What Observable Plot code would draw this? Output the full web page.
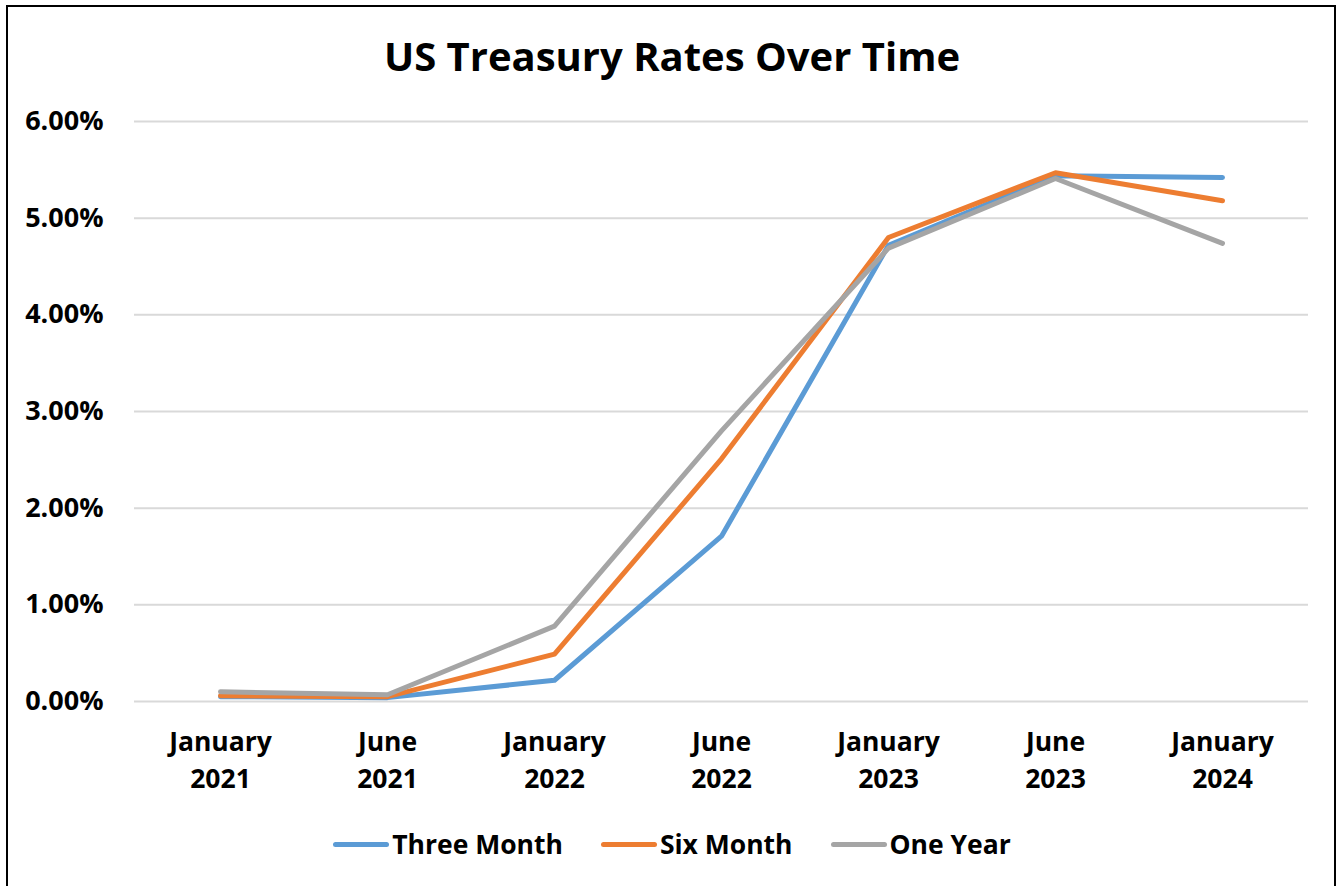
<!DOCTYPE html>
<html>
<head>
<meta charset="utf-8">
<script src="https://cdn.jsdelivr.net/npm/d3@7"></script>
<script src="https://cdn.jsdelivr.net/npm/@observablehq/plot@0.6"></script>
<style>
  html, body { margin: 0; padding: 0; background: #fff; overflow: hidden; }
  body { width: 1344px; height: 886px; position: relative; font-family: "Open Sans", Lato, sans-serif; }
  #frame { position: absolute; left: 6px; top: 5px; width: 1330px; height: 900px; border: 2px solid #000; box-sizing: border-box; }
  #title { position: absolute; left: 0; width: 1344px; top: 31px; text-align: center; font-size: 40px; font-weight: 700; color: #000; line-height: 50px; }
  #chart { position: absolute; left: 0; top: 0; }
  #legend { position: absolute; left: 0; width: 1344px; top: 825px; display: flex; justify-content: center; gap: 38px; font-size: 26.5px; font-weight: 700; line-height: 38px; }
  .item { display: flex; align-items: center; }
  .sw { width: 56px; height: 5px; border-radius: 3px; margin-right: 3px; }
</style>
</head>
<body>
<div id="frame"></div>
<div id="chart"></div>
<div id="title">US Treasury Rates Over Time</div>
<div id="legend"></div>
<script>
const dates = ["January 2021", "June 2021", "January 2022", "June 2022", "January 2023", "June 2023", "January 2024"];
const seriesNames = ["Three Month", "Six Month", "One Year"];
const seriesColors = ["#5B9BD5", "#ED7D31", "#A5A5A5"];
const threeMonth = [0.05, 0.04, 0.22, 1.71, 4.72, 5.44, 5.42];
const sixMonth = [0.06, 0.05, 0.49, 2.51, 4.80, 5.47, 5.18];
const oneYear = [0.10, 0.07, 0.78, 2.80, 4.69, 5.41, 4.74];
const yTicks = [0, 1, 2, 3, 4, 5, 6];

const values = [threeMonth, sixMonth, oneYear];
const data = [];
seriesNames.forEach((s, i) => dates.forEach((d, j) => data.push({series: s, date: d, value: values[i][j]})));

const fontFamily = "'Open Sans', Lato, sans-serif";
const plot = Plot.plot({
  width: 1344,
  height: 800,
  marginLeft: 134,
  marginRight: 36,
  marginTop: 121,
  marginBottom: 99,
  style: {fontFamily, background: "transparent"},
  x: {type: "point", domain: dates, padding: 0.5, label: null, axis: null},
  y: {domain: [0, 6], label: null},
  color: {domain: seriesNames, range: seriesColors},
  marks: [
    Plot.ruleY(yTicks, {stroke: "#d9d9d9", strokeWidth: 2}),
    Plot.axisY(yTicks, {tickSize: 0, tickPadding: 31, tickFormat: d => d.toFixed(2) + "%", fontSize: 27, fontWeight: 700, fill: "#000", label: null}),
    Plot.text(dates, {x: d => d, text: d => d.replace(" ", "\n"), frameAnchor: "bottom", lineAnchor: "top", dy: 24, lineHeight: 1.38, fontSize: 26.5, fontWeight: 700, fill: "#000"}),
    Plot.line(data, {x: "date", y: "value", z: "series", stroke: "series", strokeWidth: 5, strokeLinecap: "round", strokeLinejoin: "round"})
  ]
});
document.getElementById("chart").appendChild(plot);

const legend = document.getElementById("legend");
seriesNames.forEach((s, i) => {
  const it = document.createElement("div");
  it.className = "item";
  const sw = document.createElement("div");
  sw.className = "sw";
  sw.style.background = seriesColors[i];
  it.appendChild(sw);
  const t = document.createElement("span");
  t.textContent = s;
  it.appendChild(t);
  legend.appendChild(it);
});
</script>
</body>
</html>
